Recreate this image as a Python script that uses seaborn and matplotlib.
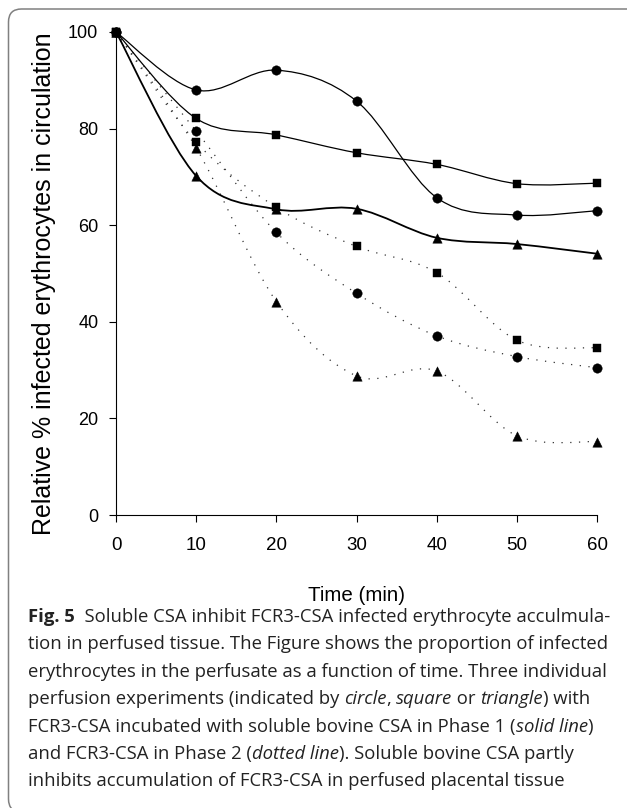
import numpy as np
import pandas as pd
import matplotlib
matplotlib.use("Agg")
import matplotlib.pyplot as plt
import seaborn as sns
from matplotlib.path import Path
from matplotlib.patches import PathPatch, FancyBboxPatch
from matplotlib.transforms import IdentityTransform

# ---------------- data ----------------
time = [0, 10, 20, 30, 40, 50, 60]
circle_solid = [100, 88.0, 92.1, 85.7, 65.7, 62.1, 63.0]
square_solid = [100, 82.1, 78.7, 75.0, 72.6, 68.6, 68.7]
triangle_solid = [100, 70.2, 63.3, 63.4, 57.4, 56.1, 54.1]
circle_dotted = [100, 79.5, 58.5, 45.9, 37.1, 32.8, 30.5]
square_dotted = [100, 77.2, 63.7, 55.6, 50.2, 36.2, 34.6]
triangle_dotted = [100, 76.0, 44.2, 28.8, 29.8, 16.4, 15.2]

x_ticks = [0, 10, 20, 30, 40, 50, 60]
y_ticks = [0, 20, 40, 60, 80, 100]
x_label = "Time (min)"
y_label = "Relative % infected erythrocytes in circulation"

caption_lines = [
    [("Fig. 5", "bold", "normal"), ("  Soluble CSA inhibit FCR3-CSA infected erythrocyte acculmula-", "normal", "normal")],
    [("tion in perfused tissue. The Figure shows the proportion of infected", "normal", "normal")],
    [("erythrocytes in the perfusate as a function of time. Three individual", "normal", "normal")],
    [("perfusion experiments (indicated by ", "normal", "normal"), ("circle", "normal", "italic"),
     (", ", "normal", "normal"), ("square", "normal", "italic"), (" or ", "normal", "normal"),
     ("triangle", "normal", "italic"), (") with", "normal", "normal")],
    [("FCR3-CSA incubated with soluble bovine CSA in Phase 1 (", "normal", "normal"),
     ("solid line", "normal", "italic"), (")", "normal", "normal")],
    [("and FCR3-CSA in Phase 2 (", "normal", "normal"), ("dotted line", "normal", "italic"),
     ("). Soluble bovine CSA partly", "normal", "normal")],
    [("inhibits accumulation of FCR3-CSA in perfused placental tissue", "normal", "normal")],
]

series = [
    ("circle", "solid", circle_solid),
    ("square", "solid", square_solid),
    ("triangle", "solid", triangle_solid),
    ("circle", "dotted", circle_dotted),
    ("square", "dotted", square_dotted),
    ("triangle", "dotted", triangle_dotted),
]

rows = []
for shape, phase, vals in series:
    for t, v in zip(time, vals):
        rows.append({"time": t, "value": v, "shape": shape, "phase": phase})
df = pd.DataFrame(rows)

# ---------------- figure ----------------
W, H = 627, 808
sns.set_theme(style="white")
plt.rcParams["font.family"] = ["Liberation Sans", "DejaVu Sans"]

fig = plt.figure(figsize=(W / 100, H / 100), dpi=100)
fig.patch.set_facecolor("white")
ax = fig.add_axes([116 / W, 1 - 515 / H, (597 - 116) / W, (515 - 32) / H])
ax.set_facecolor("white")


def smooth_path(xs, ys):
    pts = np.column_stack([xs, ys]).astype(float)
    n = len(pts)
    verts = [pts[0]]
    codes = [Path.MOVETO]
    for i in range(n - 1):
        p0 = pts[i - 1] if i > 0 else pts[i]
        p1 = pts[i]
        p2 = pts[i + 1]
        p3 = pts[i + 2] if i + 2 < n else pts[i + 1]
        c1 = p1 + (p2 - p0) / 6.0
        c2 = p2 - (p3 - p1) / 6.0
        verts += [c1, c2, p2]
        codes += [Path.CURVE4] * 3
    return Path(verts, codes)


line_styles = {
    ("circle", "solid"): dict(ls="-", lw=0.9, color="black"),
    ("square", "solid"): dict(ls="-", lw=0.9, color="black"),
    ("triangle", "solid"): dict(ls="-", lw=1.3, color="black"),
    ("circle", "dotted"): dict(ls=(0, (1, 6)), lw=0.9, color="#333333"),
    ("square", "dotted"): dict(ls=(0, (1, 6)), lw=0.9, color="#333333"),
    ("triangle", "dotted"): dict(ls=(0, (1, 6)), lw=0.9, color="#333333"),
}

for (shape, phase), g in df.groupby(["shape", "phase"]):
    st = line_styles[(shape, phase)]
    p = smooth_path(g["time"].values, g["value"].values)
    patch = PathPatch(p, facecolor="none", edgecolor=st["color"], lw=st["lw"],
                      linestyle=st["ls"], clip_on=False, zorder=2)
    ax.add_patch(patch)

marker_map = {"circle": "o", "square": "s", "triangle": "^"}
marker_size = {"circle": 46, "square": 36, "triangle": 46}
for shape in ["triangle", "square", "circle"]:
    sub = df[df["shape"] == shape]
    sns.scatterplot(data=sub, x="time", y="value", marker=marker_map[shape],
                    s=marker_size[shape], color="black", edgecolor="black",
                    linewidth=0.3, ax=ax, legend=False, zorder=3, clip_on=False)

ax.set_xlim(0, 60)
ax.set_ylim(0, 100)
ax.set_xticks(x_ticks)
ax.set_yticks(y_ticks)
ax.set_xticklabels([str(v) for v in x_ticks])
ax.set_yticklabels([str(v) for v in y_ticks])
ax.set_xlabel("")
ax.set_ylabel("")
for s in ["top", "right"]:
    ax.spines[s].set_visible(False)
for s in ["left", "bottom"]:
    ax.spines[s].set_color("black")
    ax.spines[s].set_linewidth(0.8)
ax.tick_params(axis="x", direction="out", length=5, width=0.8, color="black",
               labelsize=13.5, pad=11, labelcolor="black", bottom=True)
ax.tick_params(axis="y", direction="out", length=4.7, width=0.8, color="black",
               labelsize=13, pad=8, labelcolor="black", left=True)
ax.grid(False)

fig.text(356.5 / W, 1 - 601 / H, x_label, ha="center", va="baseline", fontsize=14.8,
         color="black")
fig.text(44 / W, 1 - 284 / H, y_label, ha="center", va="center", rotation=90,
         fontsize=18, color="black")

# ---------------- caption ----------------
renderer = fig.canvas.get_renderer()
cap_fs = 13.3
cap_family = ["Open Sans", "DejaVu Sans"]


def seg_width(txt, weight, style):
    a = fig.text(0, 0, "x" + txt + "x", fontsize=cap_fs, family=cap_family,
                 weight=weight, style=style)
    b = fig.text(0, 0, "xx", fontsize=cap_fs, family=cap_family,
                 weight=weight, style=style)
    w = a.get_window_extent(renderer).width - b.get_window_extent(renderer).width
    a.remove()
    b.remove()
    return w


x0 = 28
base0 = 622
spacing = 27.4
for i, segs in enumerate(caption_lines):
    x = x0
    yb = base0 + i * spacing
    for txt, weight, style in segs:
        fig.text(x / W, 1 - yb / H, txt, fontsize=cap_fs, family=cap_family,
                 weight=weight, style=style, ha="left", va="baseline",
                 color="#222222")
        x += seg_width(txt, weight, style)

# ---------------- rounded frame ----------------
frame = FancyBboxPatch((8.5, -4), 640, H - 9 + 4,
                       boxstyle="round,pad=0,rounding_size=13",
                       transform=IdentityTransform(), facecolor="none",
                       edgecolor="#808080", lw=1.1)
fig.add_artist(frame)

fig.savefig("out.png", dpi=100, facecolor="white")
